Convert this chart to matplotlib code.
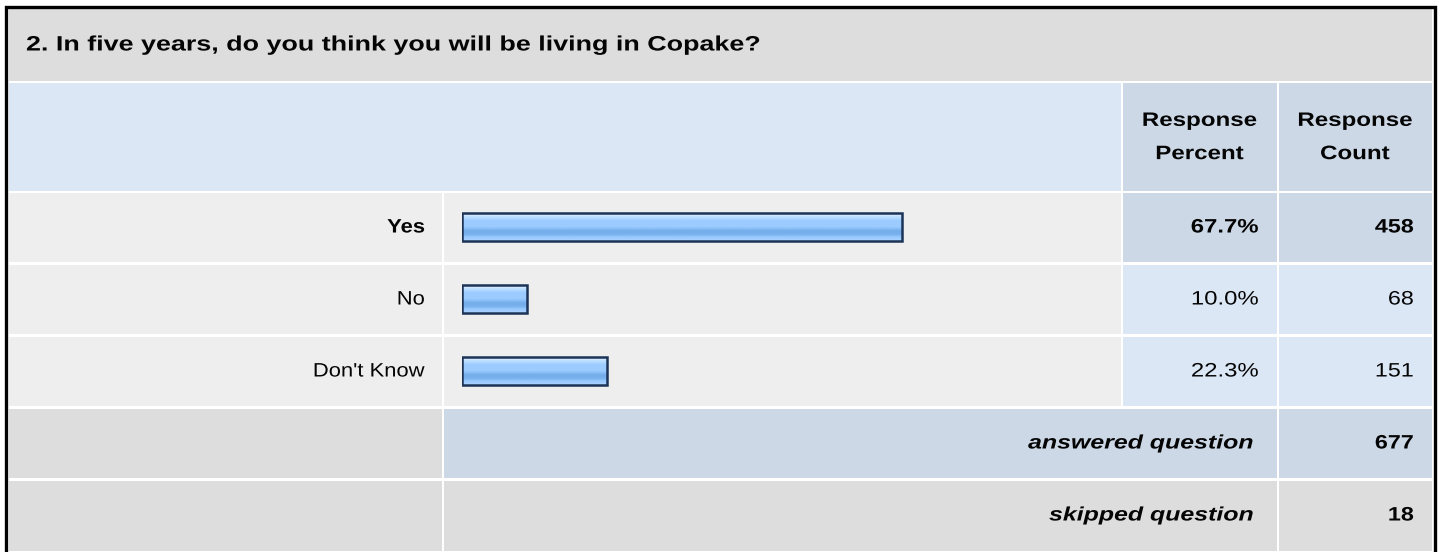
import matplotlib
matplotlib.use("Agg")
import matplotlib.pyplot as plt
from matplotlib.patches import Rectangle
from matplotlib.patheffects import AbstractPathEffect
from matplotlib.transforms import Affine2D
from matplotlib.colors import to_rgb
import numpy as np

plt.rcParams['font.family'] = ['Liberation Sans', 'DejaVu Sans']

# ---- data ----
title = "2. In five years, do you think you will be living in Copake?"
categories = ["Yes", "No", "Don't Know"]
percents = [67.7, 10.0, 22.3]
counts = [458, 68, 151]
answered = 677
skipped = 18
header_pct = "Response\nPercent"
header_cnt = "Response\nCount"

# ---- colours ----
GRAY = "#dddddd"
LIGHT = "#eeeeee"
BLUE_L = "#dce7f5"
BLUE_D = "#ccd8e6"
NAVY = "#1c3358"
INK = "#050505"

W, H = 1440, 552
fig = plt.figure(figsize=(W / 100, H / 100), dpi=100)
fig.patch.set_facecolor("white")
ax = fig.add_axes([0, 0, 1, 1])
ax.set_xlim(0, W)
ax.set_ylim(H, 0)
ax.axis("off")


class HStretch(AbstractPathEffect):
    """Widen glyphs horizontally about a fixed x (display pixels)."""

    def __init__(self, sx, x0):
        super().__init__()
        self.sx = sx
        self.x0 = x0

    def draw_path(self, renderer, gc, tpath, affine, rgbFace=None):
        t = affine + Affine2D().translate(-self.x0, 0).scale(self.sx, 1) \
            .translate(self.x0, 0)
        renderer.draw_path(gc, tpath, t, rgbFace)


def txt(x, y, s, sx=1.2, size=14, **kw):
    t = ax.text(x, y, s, fontsize=size, color=INK, zorder=3, **kw)
    t.set_path_effects([HStretch(sx, x)])
    return t


def cell(x0, y0, x1, y1, color):
    ax.add_patch(Rectangle((x0, y0), x1 - x0, y1 - y0, facecolor=color,
                           edgecolor="none", zorder=1))


# column edges
LX0, LX1 = 9, 441.5
BX0, BX1 = 444, 1120
PX0, PX1 = 1122.5, 1276.5
CX0, CX1 = 1278.5, 1431.5

# title band
cell(9, 9, CX1, 80.5, GRAY)
txt(26, 45, title, sx=1.29, size=15, fontweight="bold", ha="left",
    va="center")

# header
cell(9, 82.5, 1120.5, 190.5, BLUE_L)
cell(PX0, 82.5, PX1, 190.5, BLUE_D)
cell(CX0, 82.5, CX1, 190.5, BLUE_D)
txt((PX0 + PX1) / 2, 138, header_pct, sx=1.24, fontweight="bold",
    ha="center", va="center", linespacing=2.25)
txt((CX0 + CX1) / 2, 138, header_cnt, sx=1.24, fontweight="bold",
    ha="center", va="center", linespacing=2.25)

# data rows
row_top = 192.5
row_h = 69
row_pitch = 72
for i, (cat, p, c) in enumerate(zip(categories, percents, counts)):
    y0 = row_top + i * row_pitch
    y1 = y0 + row_h
    yc = (y0 + y1) / 2
    first = (i == 0)
    cell(LX0, y0, LX1, y1, LIGHT)
    cell(BX0, y0, BX1 + 0.5, y1, LIGHT)
    cell(PX0, y0, PX1, y1, BLUE_D if first else BLUE_L)
    cell(CX0, y0, CX1, y1, BLUE_D if first else BLUE_L)
    fw = "bold" if first else "normal"
    txt(425, yc + 1, cat, sx=1.13, fontweight=fw, ha="right", va="center")
    txt(1259, yc + 1, f"{p:.1f}%", sx=1.23, fontweight=fw, ha="right",
        va="center")
    txt(1414, yc + 1, f"{c}", sx=1.2, fontweight=fw, ha="right",
        va="center")

# answered / skipped rows
ya0 = row_top + 3 * row_pitch
cell(LX0, ya0, LX1, ya0 + row_h, GRAY)
cell(BX0, ya0, PX1, ya0 + row_h, BLUE_D)
cell(CX0, ya0, CX1, ya0 + row_h, BLUE_D)
txt(1254, ya0 + row_h / 2 + 1, "answered question", sx=1.28,
    fontweight="bold", style="italic", ha="right", va="center")
txt(1414, ya0 + row_h / 2 + 1, f"{answered}", sx=1.2, fontweight="bold",
    ha="right", va="center")

ys0 = ya0 + row_pitch
cell(LX0, ys0, LX1, ys0 + row_h + 1, GRAY)
cell(BX0, ys0, PX1, ys0 + row_h + 1, GRAY)
cell(CX0, ys0, CX1, ys0 + row_h + 1, GRAY)
txt(1254, ys0 + row_h / 2 + 1, "skipped question", sx=1.28,
    fontweight="bold", style="italic", ha="right", va="center")
txt(1414, ys0 + row_h / 2 + 1, f"{skipped}", sx=1.2, fontweight="bold",
    ha="right", va="center")

# outer border (bottom is cut off in the picture)
ax.plot([5.5, 5.5, 1434.5, 1434.5], [H + 5, 6.5, 6.5, H + 5], color="black",
        lw=2.4, solid_joinstyle="miter", zorder=4, clip_on=False)

# ---- bars ----
x_zero = 461.7
px_per_pct = 6.5
ax_top = row_top - 1.5
n = len(categories)
bax = fig.add_axes([x_zero / W, 1 - (ax_top + n * row_pitch) / H,
                    100 * px_per_pct / W, n * row_pitch / H])
bax.patch.set_alpha(0)
bax.axis("off")

stops = ["#d4eaff", "#d4eaff", "#c0e0ff", "#b4dbff", "#a6d3ff", "#9ccbff",
         "#9ccbff", "#9ccbff", "#9ccbff", "#9ccbff", "#92c5fb", "#84bbf3",
         "#76aeec", "#76aeec", "#76aeec", "#7eb5f0", "#8cc2f8", "#9ccbff",
         "#9ccbff", "#b2d8ff"]
grad = np.array([to_rgb(s) for s in stops])[:, None, :]

bar_h = 28 / row_pitch
for i, p in enumerate(percents):
    bax.imshow(grad, extent=[0, p, i + bar_h / 2, i - bar_h / 2],
               aspect="auto", interpolation="bilinear", zorder=2)
bax.barh(range(n), percents, height=bar_h, left=0, fill=False,
         edgecolor=NAVY, linewidth=1.8, zorder=3)
bax.set_xlim(0, 100)
bax.set_ylim(n - 0.5, -0.5)

fig.savefig("out.png", dpi=100, facecolor="white")
